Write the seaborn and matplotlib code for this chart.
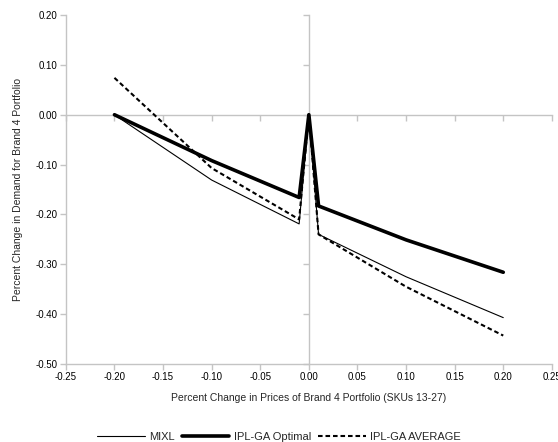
import matplotlib
matplotlib.use("Agg")
import matplotlib.pyplot as plt
import matplotlib.lines as mlines
import seaborn as sns
import pandas as pd
import numpy as np

price_change = [-0.20, -0.10, -0.01, 0.00, 0.01, 0.10, 0.20]
mixl = [0.000, -0.131, -0.219, 0.000, -0.240, -0.325, -0.407]
iplga_optimal = [0.000, -0.092, -0.166, 0.000, -0.183, -0.251, -0.316]
iplga_average = [0.074, -0.107, -0.210, 0.000, -0.240, -0.345, -0.443]
series_names = ["MIXL", "IPL-GA Optimal", "IPL-GA AVERAGE"]
x_ticks = [-0.25, -0.20, -0.15, -0.10, -0.05, 0.00, 0.05, 0.10, 0.15, 0.20, 0.25]
y_ticks = [0.20, 0.10, 0.00, -0.10, -0.20, -0.30, -0.40, -0.50]

rows = []
for name, vals in zip(series_names, [mixl, iplga_optimal, iplga_average]):
    for xv, yv in zip(price_change, vals):
        rows.append({"x": xv, "y": yv, "series": name})
df = pd.DataFrame(rows)

sns.set_theme(style="white")
plt.rcParams["font.family"] = ["Liberation Sans", "DejaVu Sans"]

fig = plt.figure(figsize=(5.58, 4.42), dpi=100)
ax = fig.add_axes([0.118, 0.1765, 0.871, 0.7895])

sns.lineplot(data=df, x="x", y="y", hue="series", style="series", size="series",
             palette={n: "black" for n in series_names},
             dashes={"MIXL": "", "IPL-GA Optimal": "", "IPL-GA AVERAGE": (2.2, 1.4)},
             sizes={"MIXL": 0.8, "IPL-GA Optimal": 2.6, "IPL-GA AVERAGE": 1.5},
             hue_order=series_names, style_order=series_names, size_order=series_names,
             sort=False, legend=False, ax=ax)

ax.set_xlim(-0.25, 0.25)
ax.set_ylim(-0.50, 0.20)
ax.set_xticks(x_ticks)
ax.set_yticks(y_ticks)
ax.set_xticklabels([f"{v:.2f}" for v in x_ticks])
ax.set_yticklabels([f"{v:.2f}" for v in y_ticks])

gray = "#c4c4c4"
for s in ["left", "bottom", "top", "right"]:
    ax.spines[s].set_color(gray)
    ax.spines[s].set_linewidth(1.0)
ax.spines["top"].set_position(("data", 0))
ax.spines["right"].set_position(("data", 0))
ax.spines["top"].set_zorder(0)
ax.spines["right"].set_zorder(0)

ax.tick_params(axis="both", which="major", direction="out", length=4, width=1.0,
               color=gray, labelsize=7, labelcolor="black", pad=2,
               top=True, right=True, labeltop=False, labelright=False,
               bottom=True, left=True)
for t in ax.xaxis.get_major_ticks():
    t.tick2line.set_marker(mlines.TICKDOWN)
for t in ax.yaxis.get_major_ticks():
    t.tick2line.set_marker(mlines.TICKLEFT)

ax.set_xlabel("Percent Change in Prices of Brand 4 Portfolio (SKUs 13-27)", fontsize=7.5, labelpad=8)
ax.set_ylabel("Percent Change in Demand for Brand 4 Portfolio", fontsize=7.5, labelpad=9)

handles = ax.get_lines()[:3]
fig.legend(handles, series_names, loc="center", bbox_to_anchor=(0.5, 0.012),
           ncol=3, frameon=False, fontsize=8, handlelength=4.3, columnspacing=0.6,
           handletextpad=0.4)

fig.savefig("out.png", dpi=100)
